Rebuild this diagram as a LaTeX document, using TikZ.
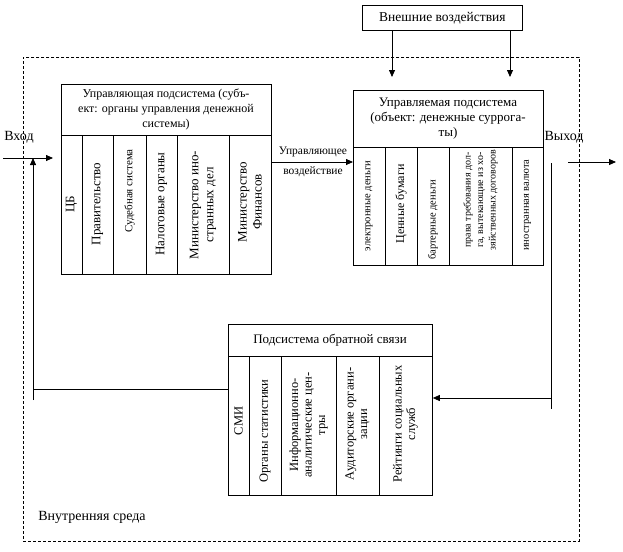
\documentclass[tikz,border=0pt]{standalone}
\usepackage{fontspec}
\setmainfont{Liberation Serif}
\usetikzlibrary{arrows.meta}
\begin{document}
\begin{tikzpicture}[x=1pt,y=-1pt,
  box/.style={draw, line width=0.8pt, inner sep=0pt, anchor=north west},
  ln/.style={line width=0.8pt},
  arr/.style={-{Triangle[length=7pt,width=6pt]}, line width=0.8pt},
  env/.style={draw, line width=0.6pt, dash pattern=on 3pt off 2pt, inner sep=0pt, anchor=north west},
  head/.style={align=center, font=\fontsize{13}{15}\selectfont, inner sep=0pt},
  colA/.style={rotate=90, align=center, font=\fontsize{13}{15}\selectfont, inner sep=0pt},
  colB/.style={rotate=90, align=center, font=\fontsize{10.5}{12.5}\selectfont, inner sep=0pt},
  colC/.style={rotate=90, align=center, font=\fontsize{12.5}{13.5}\selectfont, inner sep=0pt},
  lbl/.style={font=\fontsize{14}{16}\selectfont, inner sep=0pt},
  small/.style={font=\fontsize{11.5}{13}\selectfont, inner sep=0pt}]
\useasboundingbox (0,0) rectangle (623,551);

% environment
\node[env, minimum width=556pt, minimum height=484pt] (envbox) at (23,57) {};
\node[lbl] (inner) at (92,517) {Внутренняя среда};

% external box
\node[box, minimum width=160pt, minimum height=25pt] (ext) at (362,5) {};
\node[font=\fontsize{13.5}{15}\selectfont, inner sep=0pt] (extt) at (ext.center) {Внешние воздействия};

% controlling subsystem
\node[box, minimum width=210pt, minimum height=190pt] (ctrl) at (61,84) {};
\draw[ln] (61,135) -- (271,135);
\foreach \x in {82,113,146,177,229} \draw[ln] (\x,135) -- (\x,274);
\node[head, font=\fontsize{12}{15}\selectfont] (ctrlh) at (166,109.5) {Управляющая подсистема (субъ-\\ект: органы управления денежной\\системы)};
\node[colA] (c1) at (71.5,204) {ЦБ};
\node[colA] (c2) at (97.5,204) {Правительство};
\node[colB, font=\fontsize{11}{13}\selectfont] (c3) at (129.5,191) {Судебная система};
\node[colA] (c4) at (161.5,204) {Налоговые органы};
\node[colA] (c5) at (203,205) {Министерство ино-\\странных дел};
\node[colA] (c6) at (250,202) {Министерство\\Финансов};

% controlled subsystem
\node[box, minimum width=190pt, minimum height=175pt] (obj) at (353,90) {};
\draw[ln] (353,147) -- (543,147);
\foreach \x in {385,417,449,512} \draw[ln] (\x,147) -- (\x,265);
\node[head] (objh) at (448,118.5) {Управляемая подсистема\\(объект: денежные суррога-\\ты)};
\node[colB] (o1) at (369,206) {электронные деньги};
\node[colA, font=\fontsize{12}{14}\selectfont] (o2) at (401,204) {Ценные бумаги};
\node[colB] (o3) at (433,220) {бартерные деньги};
\node[colB, font=\fontsize{10}{12.5}\selectfont] (o4) at (480.5,200) {права требования дол-\\га, вытекающие из хо-\\зяйственных договоров};
\node[colB] (o5) at (527.5,205) {иностранная валюта};

% feedback subsystem
\node[box, minimum width=204pt, minimum height=171pt] (fb) at (228,324) {};
\draw[ln] (228,356) -- (432,356);
\foreach \x in {249,281,336,379} \draw[ln] (\x,356) -- (\x,495);
\node[head] (fbh) at (330,340) {Подсистема обратной связи};
\node[colC] (f1) at (238.5,421) {СМИ};
\node[colC] (f2) at (265,431) {Органы статистики};
\node[colC] (f3) at (308.5,425) {Информационно-\\аналитические цен-\\тры};
\node[colC] (f4) at (357.5,424) {Аудиторские органи-\\зации};
\node[colC] (f5) at (405.5,424) {Рейтинги социальных\\служб};

% labels
\node[lbl] (vhod) at (19,137) {Вход};
\node[lbl] (vyhod) at (564,137) {Выход};
\node[small] (ua1) at (313,152) {Управляющее};
\node[small] (ua2) at (313,172) {воздействие};

% coordinates
\coordinate (in0) at (3,158);
\coordinate (in1) at (53,158);
\coordinate (fbT) at (33,158);
\coordinate (fbB) at (33,400);
\coordinate (fbL) at (33,389);
\coordinate (e1) at (392,77);
\coordinate (e2) at (510,77);
\coordinate (out0) at (568,162);
\coordinate (out1) at (616,162);
\coordinate (rT) at (551,163);
\coordinate (rB) at (551,409);
\coordinate (rA) at (551,398);

% connectors
\draw[arr] (in0) -- (in1);
\draw[arr] (fbB) -- (fbT);
\draw[ln] (fb.west |- fbL) -- (fbL);
\draw[arr] (ext.south -| e1) -- (e1);
\draw[arr] (ext.south -| e2) -- (e2);
\draw[arr] (ctrl.east |- 0,162) -- (obj.west |- 0,162);
\draw[arr] (out0) -- (out1);
\draw[ln] (rT) -- (rB);
\draw[arr] (rA) -- (fb.east |- rA);
\end{tikzpicture}
\end{document}
